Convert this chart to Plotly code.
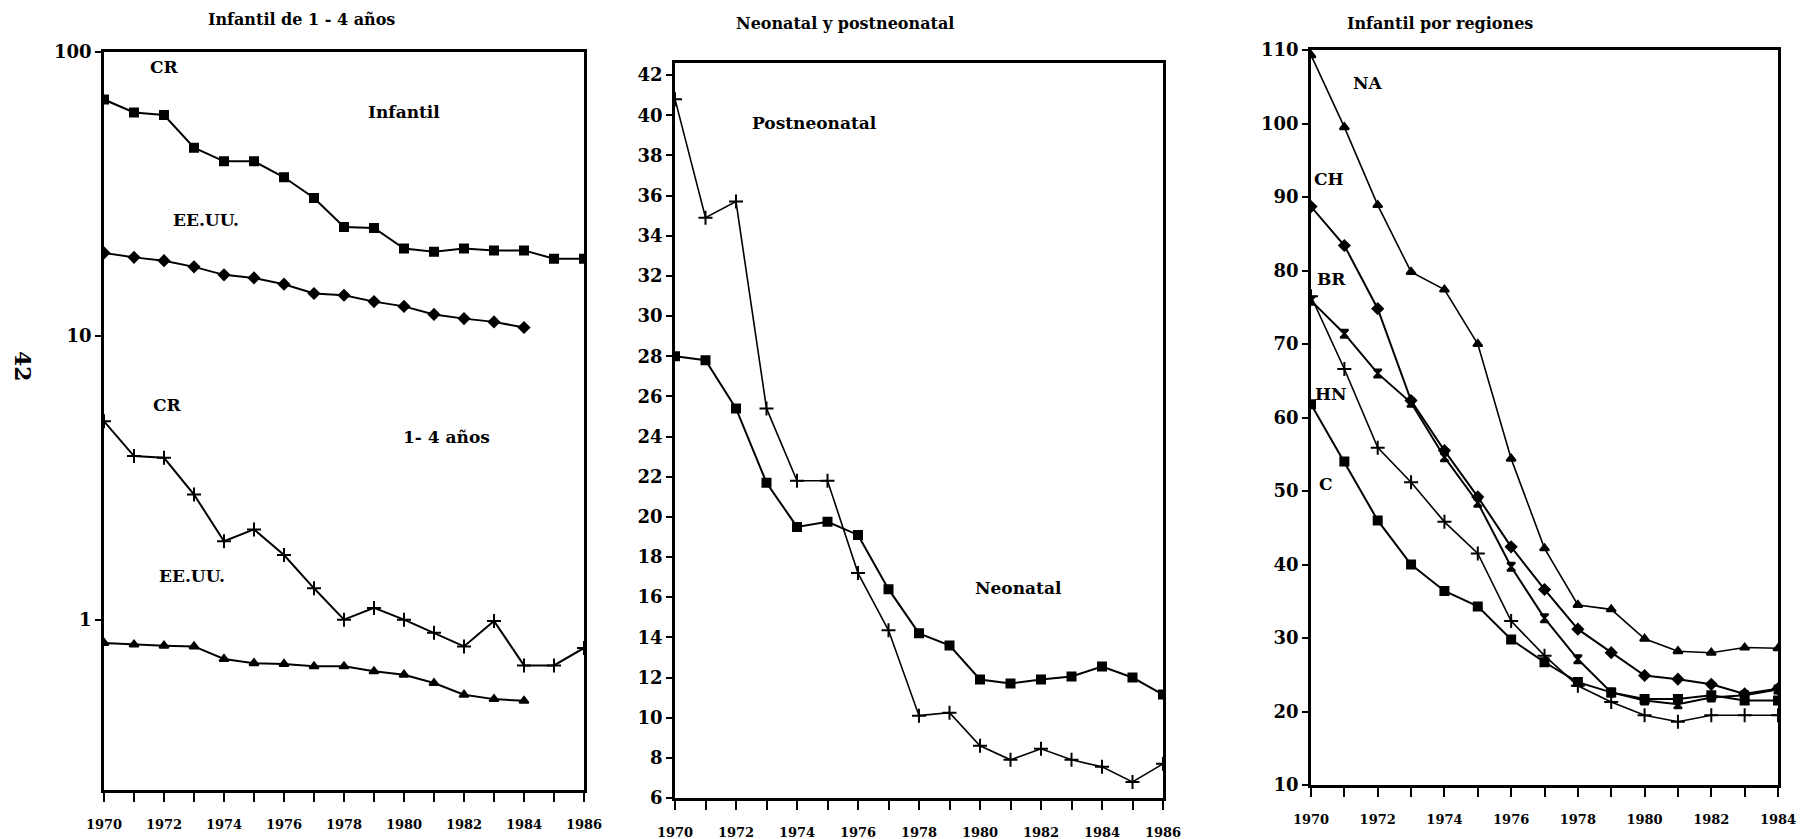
import math
import plotly.graph_objects as go

W, H = 1814, 839
OX, OY = 8, 8  # page body margin offset

years_a = list(range(1970, 1987))
years_us = list(range(1970, 1985))

# Panel 1 (log scale)
inf_cr = [68.0, 61.2, 60.0, 46.0, 41.2, 41.2, 36.2, 30.6, 24.2, 24.0, 20.3, 19.8, 20.3, 20.0, 20.0, 18.7, 18.7]
inf_us = [19.6, 18.9, 18.4, 17.5, 16.4, 16.0, 15.2, 14.1, 13.9, 13.2, 12.7, 11.9, 11.5, 11.2, 10.7]
ninos_cr = [5.0, 3.77, 3.72, 2.76, 1.89, 2.08, 1.69, 1.29, 1.0, 1.10, 1.0, 0.90, 0.805, 0.99, 0.69, 0.69, 0.795]
ninos_us = [0.828, 0.817, 0.81, 0.805, 0.727, 0.703, 0.698, 0.685, 0.685, 0.658, 0.64, 0.598, 0.544, 0.525, 0.518]

# Panel 2
postneo = [40.8, 34.9, 35.7, 25.4, 21.8, 21.8, 17.2, 14.35, 10.1, 10.25, 8.6, 7.9, 8.45, 7.9, 7.55, 6.8, 7.7]
neo = [28.0, 27.8, 25.4, 21.7, 19.5, 19.75, 19.1, 16.4, 14.2, 13.6, 11.9, 11.7, 11.9, 12.05, 12.55, 12.0, 11.15]

# Panel 3
years_r = list(range(1970, 1985))
reg_na = [109.3, 99.5, 88.9, 79.8, 77.4, 70.0, 54.4, 42.2, 34.5, 33.9, 29.9, 28.2, 28.0, 28.7, 28.6]
reg_ch = [88.7, 83.4, 74.8, 62.3, 55.5, 49.2, 42.4, 36.6, 31.2, 28.0, 24.9, 24.4, 23.7, 22.4, 23.1]
reg_br = [75.9, 71.4, 66.0, 62.0, 54.6, 48.4, 39.7, 32.7, 27.1, 22.6, 21.5, 21.0, 21.9, 22.2, 23.0]
reg_hn = [76.5, 66.6, 55.9, 51.2, 45.8, 41.5, 32.3, 27.6, 23.5, 21.3, 19.5, 18.6, 19.5, 19.5, 19.5]
reg_c = [61.8, 54.0, 46.0, 40.0, 36.4, 34.3, 29.8, 26.7, 24.0, 22.6, 21.7, 21.7, 22.2, 21.5, 21.5]

FONT = "DejaVu Serif"


def px(x):
    return (x - OX) / W


def py(y):
    return 1 - (y - OY) / H


fig = go.Figure()

def add(x, y, sym, xa, ya, size=8, lw=2):
    fig.add_trace(go.Scatter(
        x=x, y=y, mode="lines+markers", xaxis=xa, yaxis=ya,
        line=dict(color="black", width=lw),
        marker=dict(symbol=sym, size=size, color="black",
                    line=dict(color="black", width=2)),
        showlegend=False, hoverinfo="skip"))

add(years_a, inf_cr, "square", "x", "y")
add(years_us, inf_us, "diamond", "x", "y")
add(years_a, ninos_cr, "cross-thin", "x", "y", size=10)
add(years_us, ninos_us, "triangle-up", "x", "y")

add(years_a, postneo, "cross-thin", "x2", "y2", size=10, lw=1.6)
add(years_a, neo, "square", "x2", "y2")

add(years_r, reg_na, "triangle-up", "x3", "y3", lw=1.6)
add(years_r, reg_ch, "diamond", "x3", "y3")
add(years_r, reg_br, "hourglass", "x3", "y3")
add(years_r, reg_hn, "cross-thin", "x3", "y3", size=10, lw=1.6)
add(years_r, reg_c, "square", "x3", "y3")

def xaxis(dom, last, anchor):
    vals = list(range(1970, last + 1))
    return dict(domain=dom, range=[1970, last], anchor=anchor, automargin=False,
                tickvals=vals, ticktext=[str(v) if v % 2 == 0 else "" for v in vals],
                ticks="outside", ticklen=9, tickwidth=2, tickcolor="black",
                ticklabelstandoff=12,
                showline=True, linewidth=2.5, linecolor="black", mirror=True,
                showgrid=False, zeroline=False,
                tickfont=dict(family=FONT, size=13, color="black", weight="bold"))

def yaxis(dom, anchor, **kw):
    d = dict(domain=dom, anchor=anchor, automargin=False,
             ticks="outside", ticklen=6, tickwidth=2, tickcolor="black",
             showline=True, linewidth=2.5, linecolor="black", mirror=True,
             showgrid=False, zeroline=False,
             tickfont=dict(family=FONT, size=18, color="black", weight="bold"))
    d.update(kw)
    return d

fig.update_layout(
    width=W, height=H, margin=dict(l=0, r=0, t=0, b=0, autoexpand=False),
    paper_bgcolor="white", plot_bgcolor="white",
    xaxis=xaxis([px(104), px(584)], 1986, "y"),
    yaxis=yaxis([py(790), py(52)], "x", type="log", range=[-0.6, 2],
                tickvals=[1, 10, 100], ticktext=["1", "10", "100"]),
    xaxis2=xaxis([px(675), px(1163)], 1986, "y2"),
    yaxis2=yaxis([py(798), py(63)], "x2", range=[6, 42.6],
                 tickvals=list(range(6, 43, 2))),
    xaxis3=xaxis([px(1311), px(1778)], 1984, "y3"),
    yaxis3=yaxis([py(785), py(50)], "x3", range=[10, 110],
                 tickvals=list(range(10, 111, 10))),
)

ann = []
def title(x, y, t):
    ann.append(dict(x=px(x), y=py(y), xref="paper", yref="paper", text=t,
                    xanchor="center", yanchor="middle",
                    showarrow=False, font=dict(family=FONT, size=16, color="black", weight="bold")))

title(301, 20, "Infantil de 1 - 4 años")
title(845, 24, "Neonatal y postneonatal")
title(1440, 24, "Infantil por regiones")

def lab(x, y, t, xa, ya, log=False):
    ann.append(dict(x=x, y=math.log10(y) if log else y, xref=xa, yref=ya, text=t,
                    xanchor="center", yanchor="middle",
                    showarrow=False, font=dict(family=FONT, size=17, color="black", weight="bold")))

lab(1972.0, 88.5, "CR", "x", "y", log=True)
lab(1980.0, 61.5, "Infantil", "x", "y", log=True)
lab(1973.4, 25.6, "EE.UU.", "x", "y", log=True)
lab(1972.1, 5.7, "CR", "x", "y", log=True)
lab(1981.4, 4.4, "1- 4 años", "x", "y", log=True)
lab(1972.93, 1.43, "EE.UU.", "x", "y", log=True)

lab(1974.56, 39.6, "Postneonatal", "x2", "y2")
lab(1981.25, 16.45, "Neonatal", "x2", "y2")

lab(1971.7, 105.5, "NA", "x3", "y3")
lab(1970.55, 92.4, "CH", "x3", "y3")
lab(1970.6, 78.9, "BR", "x3", "y3")
lab(1970.6, 63.2, "HN", "x3", "y3")
lab(1970.45, 51.0, "C", "x3", "y3")

ann.append(dict(x=px(23), y=py(366), xref="paper", yref="paper", text="42",
                xanchor="center", yanchor="middle",
                textangle=90, showarrow=False,
                font=dict(family=FONT, size=22, color="black", weight="bold")))

fig.update_layout(annotations=ann)
fig.write_html("out.html")
